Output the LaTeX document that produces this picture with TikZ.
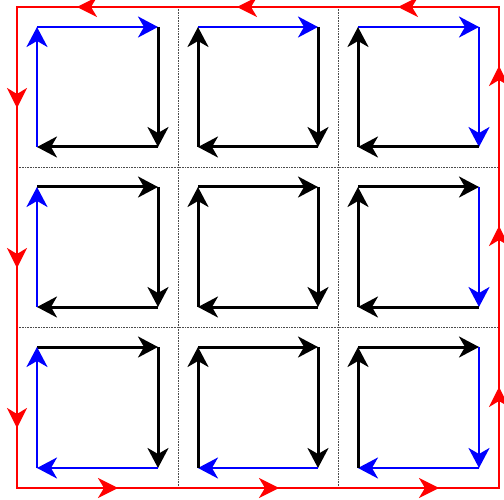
\documentclass[tikz,border=0pt]{standalone}
\usetikzlibrary{arrows.meta,decorations.markings}
\begin{document}
\begin{tikzpicture}[x=1pt,y=-1pt,
  gridline/.style={black!70, line width=0.6pt, dash pattern=on 0.8pt off 0.8pt},
  tipblk/.style={-{Stealth[length=20pt,width=21pt,inset=6pt]}},
  edgeblack/.style={black, line width=3pt, tipblk},
  edgeblue/.style={blue, line width=2.5pt, tipblk},
  redseg/.style={red, line width=2.6pt, line cap=rect, postaction=decorate,
    decoration={markings, mark=at position 101pt with {\arrow{Stealth[length=20pt,width=20pt,inset=6pt]}}}}
]
\useasboundingbox (0,0) rectangle (504,500);
% grid corner coordinates
\coordinate (X0T) at (17,7);   \coordinate (X0B) at (17,488);
\coordinate (X1T) at (178,7);  \coordinate (X1B) at (178,488);
\coordinate (X2T) at (338,7);  \coordinate (X2B) at (338,488);
\coordinate (X3T) at (499,7);  \coordinate (X3B) at (499,488);
\coordinate (Y1L) at (17,167); \coordinate (Y1R) at (499,167);
\coordinate (Y2L) at (17,327); \coordinate (Y2R) at (499,327);
% dotted grid
\draw[gridline] (X1T) -- (X1B);
\draw[gridline] (X2T) -- (X2B);
\draw[gridline] (Y1L) -- (Y1R);
\draw[gridline] (Y2L) -- (Y2R);
% inner squares
\foreach \i/\xl/\xr in {0/17/178,1/178/338,2/338/499}{
  \foreach \j/\yt/\yb in {0/7/167,1/167/327,2/327/488}{
    \coordinate (a\i\j) at (\xl+20,\yt+20);
    \coordinate (b\i\j) at (\xr-20,\yt+20);
    \coordinate (c\i\j) at (\xr-20,\yb-20);
    \coordinate (d\i\j) at (\xl+20,\yb-20);
    \ifnum\j=0 \def\stT{edgeblue}\else\def\stT{edgeblack}\fi
    \ifnum\i=2 \def\stR{edgeblue}\else\def\stR{edgeblack}\fi
    \ifnum\j=2 \def\stB{edgeblue}\else\def\stB{edgeblack}\fi
    \ifnum\i=0 \def\stL{edgeblue}\else\def\stL{edgeblack}\fi
    \draw[\stT] (a\i\j) -- (b\i\j);
    \draw[\stR] (b\i\j) -- (c\i\j);
    \draw[\stB] (c\i\j) -- (d\i\j);
    \draw[\stL] (d\i\j) -- (a\i\j);
  }
}
% red outer loop
\draw[redseg] (X3T) -- (X2T);
\draw[redseg] (X2T) -- (X1T);
\draw[redseg] (X1T) -- (X0T);
\draw[redseg] (X0T) -- (Y1L);
\draw[redseg] (Y1L) -- (Y2L);
\draw[redseg] (Y2L) -- (X0B);
\draw[redseg] (X0B) -- (X1B);
\draw[redseg] (X1B) -- (X2B);
\draw[redseg] (X2B) -- (X3B);
\draw[redseg] (X3B) -- (Y2R);
\draw[redseg] (Y2R) -- (Y1R);
\draw[redseg] (Y1R) -- (X3T);
\end{tikzpicture}
\end{document}
